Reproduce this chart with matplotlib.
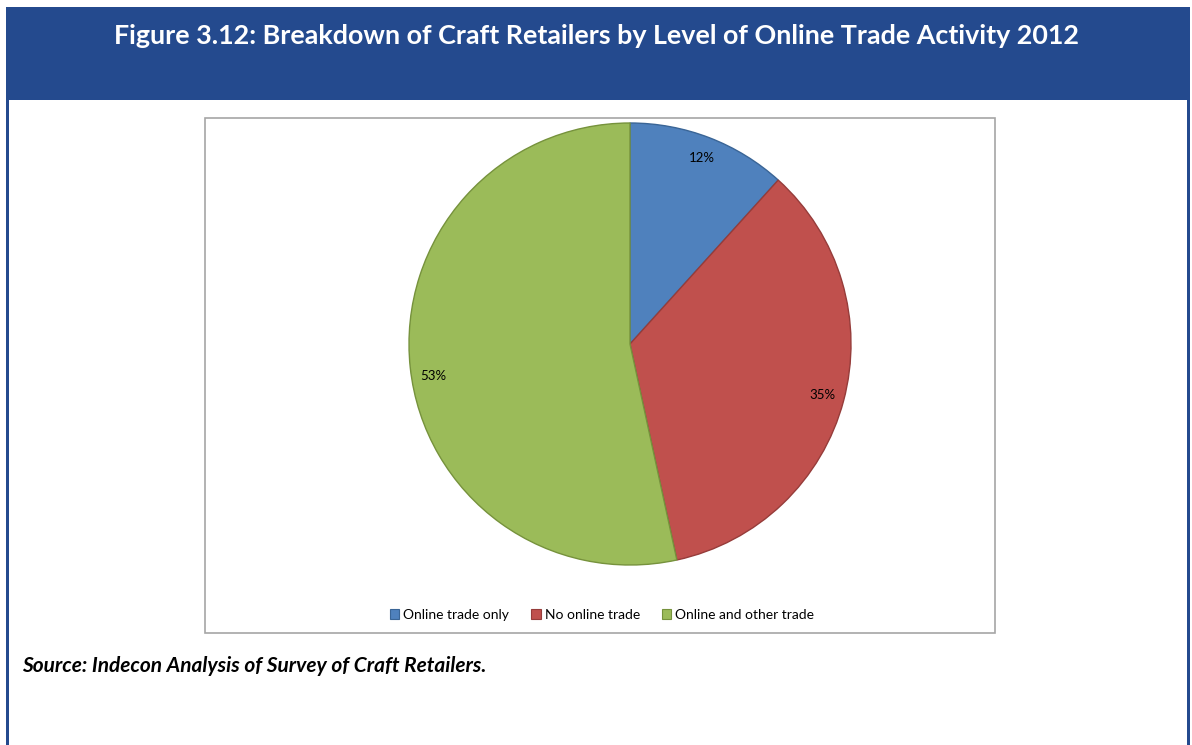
import matplotlib.pyplot as plt
from matplotlib.patches import Rectangle, Patch

categories = ["Online trade only", "No online trade", "Online and other trade"]
shares = [11.7, 34.9, 53.4]
colors = ["#4F81BD", "#C0504D", "#9BBB59"]
edges = ["#3A6596", "#963C3A", "#76923C"]

title = "Figure 3.12: Breakdown of Craft Retailers by Level of Online Trade Activity 2012"
source = "Source: Indecon Analysis of Survey of Craft Retailers."

W, H = 1192, 745
fig = plt.figure(figsize=(W / 100, H / 100), dpi=100)
fig.patch.set_facecolor("white")


def fx(px):
    return px / W


def fy(py):
    return 1 - py / H


navy = "#244A8E"
# header band and side rules of the frame
fig.add_artist(Rectangle((fx(6), fy(100)), fx(1190) - fx(6), fy(7) - fy(100),
                         transform=fig.transFigure, facecolor=navy, edgecolor="none"))
fig.add_artist(Rectangle((fx(6), 0), fx(3), fy(100), transform=fig.transFigure,
                         facecolor=navy, edgecolor="none"))
fig.add_artist(Rectangle((fx(1187), 0), fx(3), fy(100), transform=fig.transFigure,
                         facecolor=navy, edgecolor="none"))
fig.text(fx(596), fy(36), title, ha="center", va="center", color="white",
         fontsize=19.4, fontweight="bold", family="Lato")

# chart area box
fig.add_artist(Rectangle((fx(205), fy(633)), fx(995) - fx(205), fy(118) - fy(633),
                         transform=fig.transFigure, facecolor="none",
                         edgecolor="#A6A6A6", linewidth=1.2, zorder=0))

cx, cy, r = 630, 344, 221
ax = fig.add_axes([fx(cx - r), fy(cy + r), fx(2 * r), fy(cy - r) - fy(cy + r)])
wedges, texts, autotexts = ax.pie(
    shares, colors=colors, startangle=90, counterclock=False, radius=1,
    autopct=lambda p: f"{p:.0f}%", pctdistance=0.9,
    wedgeprops=dict(linewidth=1.0),
    textprops=dict(fontsize=9.5, family="Lato", color="black"))
for w, ec in zip(wedges, edges):
    w.set_edgecolor(ec)
# the large slice's label sits a little lower along the left rim
autotexts[2].set_position((-0.89, -0.145))
ax.set_xlim(-1, 1)
ax.set_ylim(-1, 1)
ax.set_aspect("equal")
ax.axis("off")

handles = [Patch(facecolor=c, edgecolor=e, linewidth=0.8) for c, e in zip(colors, edges)]
fig.legend(handles, categories, loc="center", bbox_to_anchor=(fx(602), fy(615)),
           ncol=3, frameon=False, prop=dict(family="Lato", size=10),
           handlelength=0.7, handleheight=0.7, handletextpad=0.3, columnspacing=1.55)

fig.text(fx(22), fy(666), source, ha="left", va="center", fontsize=15,
         fontweight="bold", fontstyle="italic", family="Lato")

fig.savefig("out.png", dpi=100)
